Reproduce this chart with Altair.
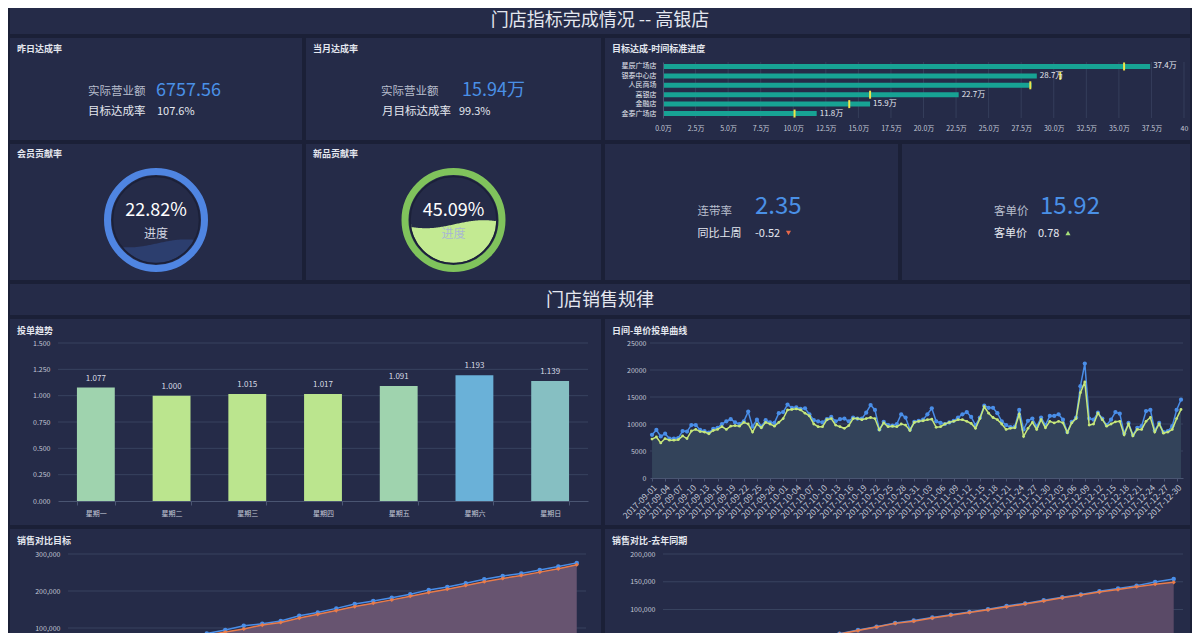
import numpy as np
import pandas as pd
import altair as alt

# ------------------------------------------------------------------ texts / values
MAIN_TITLE = "门店指标完成情况 -- 高银店"
SECTION_TITLE = "门店销售规律"

DAY_TITLE = "昨日达成率"
DAY_SALES_LABEL = "实际营业额"
DAY_SALES = "6757.56"
DAY_RATE_LABEL = "目标达成率"
DAY_RATE = "107.6%"

MONTH_TITLE = "当月达成率"
MONTH_SALES_LABEL = "实际营业额"
MONTH_SALES = "15.94万"
MONTH_RATE_LABEL = "月目标达成率"
MONTH_RATE = "99.3%"

PROGRESS_TITLE = "目标达成-时间标准进度"
STORES = ["星辰广场店", "银泰中心店", "人民商场", "高银店", "金融店", "金泰广场店"]
STORE_SALES = [37.4, 28.7, 28.3, 22.7, 15.9, 11.8]          # 万
STORE_TIME = [35.4, 30.5, 28.2, 15.9, 14.3, 10.1]           # 时间标准进度 (万)
STORE_LABELS = ["37.4万", "28.7万", "", "22.7万", "15.9万", "11.8万"]
PROGRESS_TICKS = [0, 2.5, 5, 7.5, 10, 12.5, 15, 17.5, 20, 22.5, 25, 27.5, 30, 32.5, 35, 37.5, 40]

MEMBER_TITLE = "会员贡献率"
MEMBER_RATE = 22.82
NEWITEM_TITLE = "新品贡献率"
NEWITEM_RATE = 45.09
GAUGE_CAPTION = "进度"

ATTACH_LABEL = "连带率"
ATTACH_VALUE = "2.35"
ATTACH_CMP_LABEL = "同比上周"
ATTACH_CMP = "-0.52"
PRICE_LABEL = "客单价"
PRICE_VALUE = "15.92"
PRICE_CMP_LABEL = "客单价"
PRICE_CMP = "0.78"

WEEKDAY_TITLE = "投单趋势"
WEEKDAYS = ["星期一", "星期二", "星期三", "星期四", "星期五", "星期六", "星期日"]
WEEKDAY_VALUES = [1.077, 1.000, 1.015, 1.017, 1.091, 1.193, 1.139]
WEEKDAY_TICKS = [0, 0.25, 0.5, 0.75, 1.0, 1.25, 1.5]

DAILY_TITLE = "日间-单价投单曲线"
DAILY_DATES = [d.strftime("%Y-%m-%d") for d in pd.date_range("2017-09-01", "2017-12-31")]
DAILY_BLUE = [
    8000, 8900, 7700, 8200, 7300, 7300, 7400, 8700, 8600, 9800,
    9800, 8900, 8700, 8400, 9100, 9300, 10000, 10500, 10900, 10300,
    10000, 10500, 12300, 9500, 10800, 9500, 10700, 10300, 10200, 12000,
    12200, 13600, 13000, 13100, 12800, 12900, 11800, 10700, 10500, 10300,
    10900, 11300, 10500, 10900, 11000, 10500, 11200, 11000, 11000, 12100,
    13500, 12600, 9000, 10400, 9800, 9700, 10000, 11800, 11200, 9000,
    10400, 10600, 10800, 11800, 12900, 10500, 10200, 10000, 10300, 10600,
    11200, 11800, 12200, 11300, 9800, 11200, 13400, 13000, 13000, 12000,
    10500, 9800, 9400, 9500, 12600, 9000, 10600, 11000, 9500, 11200,
    9800, 11500, 11500, 11800, 10800, 8500, 10400, 11200, 17000, 21200,
    11000, 10800, 12100, 11000, 9800, 10800, 12200, 11900, 8300, 10200,
    8000, 9300, 9600, 12400, 12600, 8800, 10200, 8500, 8700, 9600,
    12600, 14500,
]
DAILY_GREEN = [
    7200, 7600, 6500, 7300, 7000, 7000, 7100, 7800, 7300, 8700,
    9000, 8600, 8500, 8200, 8800, 9000, 9500, 9000, 9600, 9700,
    9600, 10300, 10000, 8500, 10000, 9300, 10300, 10000, 9600, 10300,
    11000, 12600, 12700, 12800, 12600, 12000, 11500, 10000, 9500, 9500,
    10800, 11000, 9800, 9500, 9200, 9700, 11000, 11000, 10800, 11000,
    11200, 11000, 8900, 10200, 9500, 9600, 9500, 10000, 9800, 8800,
    10300, 10500, 10600, 10800, 10900, 9400, 9500, 10000, 10300, 10500,
    10800, 10800, 10500, 10100, 9200, 11000, 13200, 12000, 11200, 10800,
    10000, 9000, 9200, 9300, 11800, 7700, 9200, 10300, 9000, 10800,
    9300, 10500, 10200, 10500, 10200, 8400, 10200, 11000, 15800, 17800,
    9800, 10000, 12000, 10800, 9600, 10000, 10400, 10500, 8000, 10000,
    7800, 9000, 9000, 10500, 11200, 8500, 10000, 8300, 8500, 9000,
    11000, 12700,
]
DAILY_TICKS = [0, 5000, 10000, 15000, 20000, 25000]

TARGET_TITLE = "销售对比目标"
MONTH_DAYS = [str(d) for d in range(1, 29)]
TARGET_ACTUAL = [10500, 21800, 33000, 43500, 53800, 64000, 74500, 85000, 94600, 106000,
                 111600, 119000, 133000, 142000, 153000, 165000, 173000, 182000, 191000, 203000,
                 211000, 221000, 232000, 240500, 247000, 257000, 266000, 276000]
TARGET_GOAL = [9800, 20500, 31000, 41000, 50500, 60500, 70500, 80500, 89000, 97500,
               108000, 115000, 127000, 137000, 147000, 158000, 167000, 176000, 186000, 196000,
               205000, 215000, 225000, 234000, 242000, 251000, 260000, 271000]
TARGET_TICKS = [0, 100000, 200000, 300000]

LASTYEAR_TITLE = "销售对比-去年同期"
LASTYEAR_NOW = [6000, 11500, 17000, 22500, 28000, 33500, 39000, 45000, 50500, 56500,
                63000, 69000, 75500, 80000, 85500, 90500, 95500, 100500, 106500, 111000,
                116500, 122000, 127000, 133000, 138000, 143000, 149400, 155000]
LASTYEAR_PREV = [5800, 11000, 16500, 22000, 27500, 33000, 38500, 44000, 50000, 56000,
                 62000, 68400, 75000, 79000, 84500, 89800, 94600, 99400, 104800, 110000,
                 115500, 121000, 126000, 131500, 136000, 141000, 145500, 149000]
LASTYEAR_TICKS = [0, 50000, 100000, 150000, 200000]

# ------------------------------------------------------------------ styles
GAP = "#1b2037"
PANEL = "#252b48"
TXT = "#e4e7ef"
SUB = "#b7bdcc"
AXLAB = "#c3c8d6"
GRID = "#38435f"
AXISLINE = "#4a5572"
BLUE_TXT = "#4a90e6"
TEAL = "#17a394"
YELLOW = "#eee44a"
LBLUE = "#4a8ee8"
LGREEN = "#c6e77b"
ORANGE = "#e97c4b"
FONT = "Noto Sans CJK SC"
WEEKDAY_COLORS = ["#9fd3ae", "#bbe58e", "#bbe58e", "#bbe58e", "#9fd3ae", "#6ab1d8", "#86bfc2"]

ONE = pd.DataFrame({"k": [0]})


def txt(s, x, y, size, color, align="left", weight="normal", baseline="alphabetic", clip=True):
    return alt.Chart(ONE).mark_text(
        text=s, fontSize=size, color=color, align=align, baseline=baseline,
        fontWeight=weight, font=FONT, clip=clip,
    ).encode(x=alt.value(x), y=alt.value(y))


def panel_title(s, top=11):
    return txt(s, 7, top, 9, TXT, weight="bold", baseline="middle")


def text_panel(w, h, layers):
    return alt.layer(*layers).properties(width=w, height=h)


def row(*charts):
    return alt.hconcat(*charts, spacing=4)


# ------------------------------------------------------------------ top band / header
band = text_panel(1180, 26, [txt(MAIN_TITLE, 590, 13, 18, TXT, align="center", baseline="middle", clip=False)])
header = text_panel(1180, 31, [txt(SECTION_TITLE, 590, 17, 18, TXT, align="center", baseline="middle")])

# ------------------------------------------------------------------ row 1
pA = text_panel(292, 102, [
    panel_title(DAY_TITLE),
    txt(DAY_SALES_LABEL, 78, 57, 11.5, SUB),
    txt(DAY_SALES, 146, 57.5, 18, BLUE_TXT),
    txt(DAY_RATE_LABEL, 78, 77, 11.5, TXT),
    txt(DAY_RATE, 147, 77, 11, TXT),
])
pB = text_panel(295, 102, [
    panel_title(MONTH_TITLE),
    txt(MONTH_SALES_LABEL, 75, 57, 11.5, SUB),
    txt(MONTH_SALES, 156, 57.5, 18, BLUE_TXT),
    txt(MONTH_RATE_LABEL, 76, 77, 11.5, TXT),
    txt(MONTH_RATE, 153, 77, 11, TXT),
])


def progress_panel():
    PW, PH = 585, 102
    L, W, T, H = 58, 521, 24, 56
    df = pd.DataFrame({"store": STORES, "sales": STORE_SALES, "time": STORE_TIME, "label": STORE_LABELS})
    xsc = alt.Scale(domain=[0, 40], nice=False, zero=True, range=[L, L + W])
    xax = alt.Axis(values=PROGRESS_TICKS,
                   labelExpr="datum.value == 40 ? '40' : format(datum.value, '.1f') + '万'",
                   domain=False, ticks=False, labelPadding=6, zindex=1, grid=False,
                   labelFontSize=7, labelOverlap=False, labelFlush=False, offset=(T + H) - PH)
    ysc = alt.Scale(domain=STORES, paddingInner=0.45, paddingOuter=0.2, range=[T, T + H])
    yax = alt.Axis(ticks=False, domain=True, domainColor=AXISLINE, labelPadding=7,
                   labelFontSize=7, zindex=1, grid=False, labelColor=TXT, offset=-L)
    X = lambda f: alt.X(f, scale=xsc, axis=xax, title=None)
    Y = lambda f: alt.Y(f, scale=ysc, sort=STORES, axis=yax, title=None)
    grid = alt.Chart(pd.DataFrame({"t": PROGRESS_TICKS[1:]})).mark_rule(color=GRID, strokeWidth=0.8).encode(
        x=X("t:Q"), y=alt.value(T), y2=alt.value(T + H))
    bars = alt.Chart(df).mark_bar(color=TEAL, size=5).encode(x=X("sales:Q"), y=Y("store:N"))
    ticks = alt.Chart(df).mark_tick(color=YELLOW, thickness=2, size=8, opacity=1).encode(
        x=X("time:Q"), y=Y("store:N"))
    labels = alt.Chart(df).mark_text(align="left", dx=3, fontSize=8, color=TXT, baseline="middle", clip=True).encode(
        x=X("sales:Q"), y=Y("store:N"), text="label:N")
    return alt.layer(grid, bars, ticks, labels, panel_title(PROGRESS_TITLE)).properties(width=PW, height=PH)


row1 = row(pA, pB, progress_panel())

# ------------------------------------------------------------------ row 2


def gauge(title, pct, w, ring_c, fill_c, cap_c):
    h = 136
    cx, cy = w / 2, 76
    R = 43
    xs = np.arange(-R, R + 0.01, 1.0)
    level = -R + 2 * R * pct / 100.0
    wave = level + 4 * np.sin(2 * np.pi * (xs - 1.25) / 115.0)
    circ = np.sqrt(np.maximum(R * R - xs ** 2, 0))
    lo = -circ
    hi = np.maximum(np.minimum(wave, circ), lo)
    df = pd.DataFrame({"x": xs, "lo": lo, "hi": hi})
    xsc = alt.Scale(domain=[-cx, w - cx], nice=False, zero=False)
    ysc = alt.Scale(domain=[-(h - cy), cy], nice=False, zero=False)
    water = alt.Chart(df).mark_area(color=fill_c, opacity=1, clip=True).encode(
        x=alt.X("x:Q", scale=xsc, axis=None),
        y=alt.Y("lo:Q", scale=ysc, axis=None),
        y2="hi:Q")
    border = alt.Chart(ONE).mark_point(shape="circle", filled=False, size=87 * 87, strokeWidth=1.5,
                                       color="#1b2038", opacity=1, clip=True).encode(
        x=alt.value(cx), y=alt.value(cy))
    ring = alt.Chart(ONE).mark_point(shape="circle", filled=False, size=97 * 97, strokeWidth=7,
                                     color=ring_c, opacity=1, clip=True).encode(
        x=alt.value(cx), y=alt.value(cy))
    return alt.layer(
        water, border, ring,
        txt(f"{pct:.2f}%", cx, cy - 9, 18, "#ffffff", align="center", baseline="middle"),
        txt(GAUGE_CAPTION, cx, cy + 14, 12, cap_c, align="center", baseline="middle"),
        panel_title(title, 10),
    ).properties(width=w, height=h)


g1 = gauge(MEMBER_TITLE, MEMBER_RATE, 292, "#4f85e2", "#2c3e6e", "#d3d7e2")
g2 = gauge(NEWITEM_TITLE, NEWITEM_RATE, 295, "#80c35c", "#c3ea92", "#a9b9d2")

pC = text_panel(293, 136, [
    txt(ATTACH_LABEL, 92.6, 71, 11.5, SUB),
    txt(ATTACH_VALUE, 150, 70.3, 24, BLUE_TXT),
    txt(ATTACH_CMP_LABEL, 92.6, 93, 11, TXT),
    txt(ATTACH_CMP, 150, 93, 11, TXT),
    alt.Chart(ONE).mark_point(shape="triangle-down", filled=True, size=26, color="#e8684a", opacity=1,
                              clip=True).encode(x=alt.value(183.5), y=alt.value(89)),
])
pD = text_panel(288, 136, [
    txt(PRICE_LABEL, 92, 71, 11.5, SUB),
    txt(PRICE_VALUE, 138, 70.3, 24, BLUE_TXT),
    txt(PRICE_CMP_LABEL, 92, 93, 11, TXT),
    txt(PRICE_CMP, 136, 93, 11, TXT),
    alt.Chart(ONE).mark_point(shape="triangle-up", filled=True, size=26, color="#a6e07a", opacity=1,
                              clip=True).encode(x=alt.value(166), y=alt.value(89)),
])

row2 = row(g1, g2, pC, pD)

# ------------------------------------------------------------------ row 3


def weekday_panel():
    PW, PH = 591, 206
    L, W, T, H = 48, 530, 24, 158
    df = pd.DataFrame({"day": WEEKDAYS, "v": WEEKDAY_VALUES,
                       "lab": [f"{v:.3f}" for v in WEEKDAY_VALUES]})
    xsc = alt.Scale(domain=WEEKDAYS, paddingInner=0.5, paddingOuter=0.25, range=[L, L + W])
    xax = alt.Axis(labelAngle=0, labelFontSize=7, domainColor=AXISLINE, tickColor=AXISLINE,
                   tickBand="extent", tickSize=4, labelPadding=4, zindex=1, grid=False,
                   labelOverlap=False, offset=(T + H) - PH)
    ysc = alt.Scale(domain=[0, 1.5], nice=False, range=[T + H, T])
    yax = alt.Axis(values=WEEKDAY_TICKS, format=".3f", domain=False, ticks=False, labelPadding=8,
                   labelFontSize=7, zindex=1, grid=False, labelOverlap=False, offset=-L)
    X = lambda f: alt.X(f, sort=WEEKDAYS, scale=xsc, axis=xax, title=None)
    Y = lambda f: alt.Y(f, scale=ysc, axis=yax, title=None)
    grid = alt.Chart(pd.DataFrame({"t": WEEKDAY_TICKS[1:]})).mark_rule(color=GRID).encode(
        y=Y("t:Q"), x=alt.value(L), x2=alt.value(L + W))
    bars = alt.Chart(df).mark_bar().encode(
        x=X("day:N"), y=Y("v:Q"),
        color=alt.Color("day:N", scale=alt.Scale(domain=WEEKDAYS, range=WEEKDAY_COLORS), legend=None))
    labels = alt.Chart(df).mark_text(dy=-9, fontSize=8, color="#d6dae4", clip=True).encode(
        x=X("day:N"), y=Y("v:Q"), text="lab:N")
    return alt.layer(grid, bars, labels, panel_title(WEEKDAY_TITLE, 12)).properties(width=PW, height=PH)


def daily_panel():
    PW, PH = 585, 206
    L, W, T, H = 45, 533, 24, 135
    df = pd.DataFrame({"date": DAILY_DATES, "blue": DAILY_BLUE, "green": DAILY_GREEN})
    xsc = alt.Scale(type="point", padding=0.46, domain=DAILY_DATES, range=[L, L + W])
    xax = alt.Axis(values=DAILY_DATES[::3], labelAngle=-45, labelAlign="right", labelBaseline="top",
                   labelFontSize=8.5, labelOverlap=False, domainColor=AXISLINE, tickColor=AXISLINE,
                   tickSize=3, grid=False, zindex=1, labelPadding=2, offset=(T + H) - PH)
    ysc = alt.Scale(domain=[0, 25000], nice=False, range=[T + H, T])
    yax = alt.Axis(values=DAILY_TICKS, format="d", domain=False, ticks=False, labelPadding=4,
                   labelFontSize=7, zindex=1, grid=False, labelOverlap=False, offset=-L)
    X = lambda f: alt.X(f, scale=xsc, axis=xax, title=None)
    Y = lambda f: alt.Y(f, scale=ysc, axis=yax, title=None)
    grid = alt.Chart(pd.DataFrame({"t": DAILY_TICKS[1:]})).mark_rule(color=GRID).encode(
        y=Y("t:Q"), x=alt.value(L), x2=alt.value(L + W))
    area = alt.Chart(df).mark_area(color="#33435a", opacity=1).encode(x=X("date:O"), y=Y("green:Q"))
    lb = alt.Chart(df).mark_line(color=LBLUE, strokeWidth=1.5).encode(x=X("date:O"), y=Y("blue:Q"))
    pb = alt.Chart(df).mark_point(color=LBLUE, filled=True, size=18, opacity=1).encode(x=X("date:O"), y=Y("blue:Q"))
    lg = alt.Chart(df).mark_line(color=LGREEN, strokeWidth=1.5).encode(x=X("date:O"), y=Y("green:Q"))
    pg = alt.Chart(df).mark_point(color=LGREEN, filled=True, size=8, opacity=1).encode(x=X("date:O"), y=Y("green:Q"))
    return alt.layer(grid, area, lb, pb, lg, pg, panel_title(DAILY_TITLE, 12)).properties(width=PW, height=PH)


row3 = row(weekday_panel(), daily_panel())

# ------------------------------------------------------------------ row 4


def cumulative_panel(title, top_vals, low_vals, ticks, ymax, PW, W, fill_c):
    PH = 170
    L, T, H = 58, 25, 111
    df = pd.DataFrame({"day": MONTH_DAYS, "a": top_vals, "g": low_vals})
    xsc = alt.Scale(type="point", padding=0.5, domain=MONTH_DAYS, range=[L, L + W])
    xax = alt.Axis(labels=False, ticks=False, domainColor=AXISLINE, grid=False, zindex=1, offset=(T + H) - PH)
    ysc = alt.Scale(domain=[0, ymax], nice=False, range=[T + H, T])
    yax = alt.Axis(values=ticks, format=",d", domain=False, ticks=False, labelPadding=8,
                   labelFontSize=7, zindex=1, grid=False, labelOverlap=False, offset=-L)
    X = lambda f: alt.X(f, scale=xsc, axis=xax, title=None)
    Y = lambda f: alt.Y(f, scale=ysc, axis=yax, title=None)
    grid = alt.Chart(pd.DataFrame({"t": ticks[1:]})).mark_rule(color=GRID).encode(
        y=Y("t:Q"), x=alt.value(L), x2=alt.value(L + W))
    area = alt.Chart(df).mark_area(color=fill_c, opacity=1).encode(x=X("day:O"), y=Y("g:Q"))
    lo = alt.Chart(df).mark_line(color=ORANGE, strokeWidth=1.5).encode(x=X("day:O"), y=Y("g:Q"))
    po = alt.Chart(df).mark_point(color=ORANGE, filled=True, shape="diamond", size=18, opacity=1).encode(
        x=X("day:O"), y=Y("g:Q"))
    la = alt.Chart(df).mark_line(color=LBLUE, strokeWidth=1.5).encode(x=X("day:O"), y=Y("a:Q"))
    pa = alt.Chart(df).mark_point(color=LBLUE, filled=True, size=20, opacity=1).encode(x=X("day:O"), y=Y("a:Q"))
    return alt.layer(grid, area, la, pa, lo, po, panel_title(title, 12)).properties(width=PW, height=PH)


row4 = row(
    cumulative_panel(TARGET_TITLE, TARGET_ACTUAL, TARGET_GOAL, TARGET_TICKS, 300000, 591, 518, "#675470"),
    cumulative_panel(LASTYEAR_TITLE, LASTYEAR_NOW, LASTYEAR_PREV, LASTYEAR_TICKS, 200000, 585, 520, "#5a4a67"),
)

chart = alt.vconcat(band, row1, row2, header, row3, row4, spacing=4).properties(
    background=GAP,
    padding={"left": 2, "top": 0, "right": 2, "bottom": 0},
).configure(font=FONT).configure_view(fill=PANEL, stroke="transparent", strokeWidth=0).configure_axis(
    labelFont=FONT, labelColor=AXLAB, labelFontSize=7, domainColor=AXISLINE, tickColor=AXISLINE,
)

chart.save("out.html", embed_options={"renderer": "svg", "actions": False})
